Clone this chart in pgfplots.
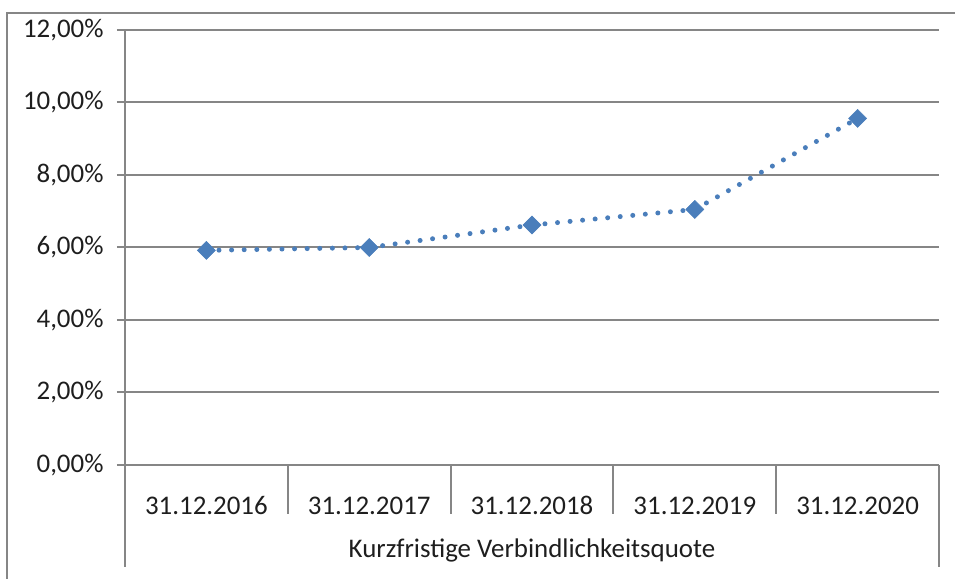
\documentclass[border=0pt]{standalone}
\usepackage{fontspec}
\setmainfont{Carlito}
\usepackage{pgfplots}
\pgfplotsset{compat=1.18}
\definecolor{gridgray}{RGB}{134,134,134}
\definecolor{serblue}{RGB}{74,126,187}
\definecolor{txt}{RGB}{30,30,30}
\begin{document}
\begin{tikzpicture}
\useasboundingbox (0bp,0bp) rectangle (955bp,579bp);
\draw[gridgray, line width=2bp] (7bp,0bp) -- (7bp,566bp) -- (955bp,566bp);
\begin{axis}[
  at={(125bp,114bp)}, anchor=south west,
  width=814bp, height=435bp, scale only axis,
  xmin=-0.5, xmax=4.5, ymin=0, ymax=12,
  axis x line*=bottom, axis y line*=left,
  axis line style={gridgray, line width=2bp, -},
  ytick={0,2,4,6,8,10,12},
  yticklabels={{0,00\%},{2,00\%},{4,00\%},{6,00\%},{8,00\%},{10,00\%},{12,00\%}},
  xtick={0,1,2,3,4},
  xticklabels={31.12.2016,31.12.2017,31.12.2018,31.12.2019,31.12.2020},
  ymajorgrids, major grid style={gridgray, line width=2bp},
  tick align=outside, major tick length=8bp,
  xtick style={draw=none}, ytick style={gridgray, line width=2bp},
  tick label style={font=\fontsize{27}{32}\selectfont, text=txt},
  xticklabel style={anchor=base, yshift=-41bp},
  yticklabel style={xshift=-10bp},
  clip=false,
]
\addplot[serblue, line width=5bp, line cap=round, dash pattern=on 0bp off 12.6bp,
  mark=square*, mark size=6.4bp,
  mark options={solid, rotate=45, fill=serblue, draw=serblue, line width=0.5bp}]
  coordinates {(0,5.92) (1,6.00) (2,6.62) (3,7.05) (4,9.56)};
\draw[gridgray, line width=2bp] (rel axis cs:0,0) -- ++(0bp,-102bp);
\draw[gridgray, line width=2bp] (rel axis cs:1,0) -- ++(0bp,-102bp);
\draw[gridgray, line width=2bp] (axis cs:0.5,0) -- ++(0bp,-49bp);
\draw[gridgray, line width=2bp] (axis cs:1.5,0) -- ++(0bp,-49bp);
\draw[gridgray, line width=2bp] (axis cs:2.5,0) -- ++(0bp,-49bp);
\draw[gridgray, line width=2bp] (axis cs:3.5,0) -- ++(0bp,-49bp);
\node[anchor=base, font=\fontsize{27}{32}\selectfont, text=txt] at ([yshift=-92bp]axis cs:2,0) {Kurzfristige Verbindlichkeitsquote};
\end{axis}
\end{tikzpicture}
\end{document}
